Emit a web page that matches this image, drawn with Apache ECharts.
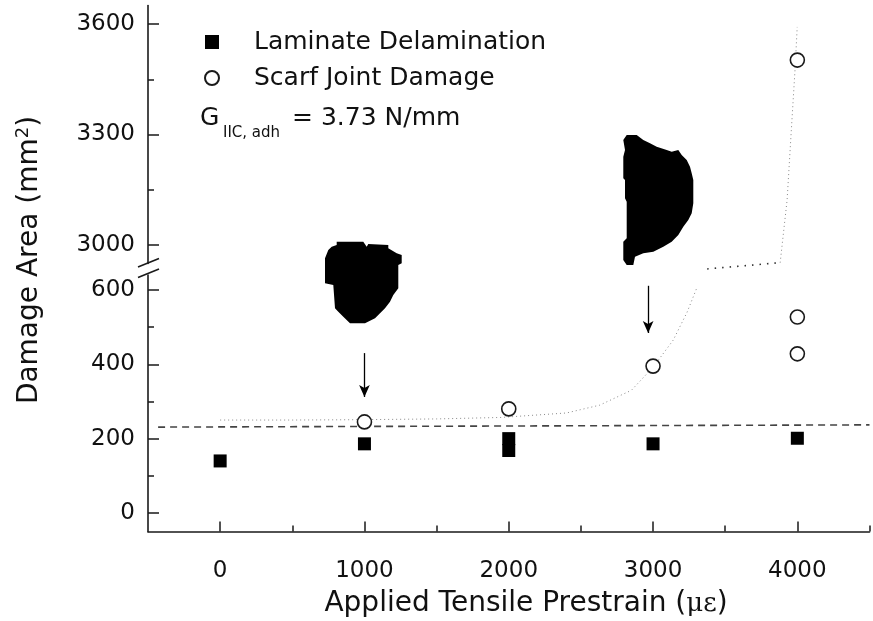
<!DOCTYPE html>
<html>
<head>
<meta charset="utf-8">
<script src="https://cdn.jsdelivr.net/npm/echarts@6/dist/echarts.min.js"></script>
<style>
  html, body { margin: 0; padding: 0; background: #fff; }
  #chart { width: 873px; height: 621px; }
</style>
</head>
<body>
<div id="chart"></div>
<script>
// measured data (strain in microstrain, area in mm^2)
const lamStrain = [0, 1000, 2000, 2000, 3000, 4000]
const lamArea = [140, 186, 200, 168, 186, 201]

const scarfStrain = [1000, 2000, 3000, 4000, 4000]
const scarfArea = [245, 280, 395, 428, 527]
const scarfUpStrain = [4000]
const scarfUpArea = [3502]

// dashed reference level
const dashStrain = [-430, 4500]
const dashArea = [231, 237]

// dotted trend curve, lower and upper panel
const fitStrain = [0, 500, 1000, 1500, 1950, 2400, 2630, 2850, 3000, 3140, 3236, 3306]
const fitArea = [250, 250, 251, 253, 257, 269, 290, 330, 392, 465, 540, 608]
const fitFlatStrain = [3375, 3881]
const fitFlatArea = [2935, 2952]
const fitRiseStrain = [3881, 3929, 3957, 3985, 3999]
const fitRiseArea = [2952, 3122, 3304, 3483, 3592]

// arrows pointing at the damage pictures
const arrowStrain = [1000, 2966]
const arrowFrom = [430, 611]
const arrowTo = [312, 484]

// ticks
const xMajor = [0, 1000, 2000, 3000, 4000]
const xMinor = [500, 1500, 2500, 3500, 4500]
const yLowMajor = [0, 200, 400, 600]
const yLowMinor = [100, 300, 500]
const yUpMajor = [3000, 3300, 3600]
const yUpMinor = [3150, 3450]

const FONT = 'DejaVu Sans'
const AX = '#1a1a1a'

const zip = (a, b) => a.map((v, i) => [v, b[i]])

const chart = echarts.init(document.getElementById('chart'))

const valueAxis = (extra) => Object.assign({
  type: 'value',
  splitLine: { show: false },
  axisLine: { show: true, onZero: false, lineStyle: { color: AX, width: 1.6 } },
  axisLabel: { show: false },
  axisTick: { show: false }
}, extra)

const hiddenLine = { show: false, onZero: false }

const majorTick = (vals, len) => ({
  show: true, inside: true, length: len, customValues: vals,
  lineStyle: { color: AX, width: 1.5 }
})

const labelStyle = (vals, margin) => ({
  show: true, customValues: vals, margin: margin,
  formatter: (v) => String(v),
  fontFamily: FONT, fontSize: 23, color: '#111'
})

const option = {
  animation: false,
  backgroundColor: '#fff',
  grid: [
    { left: 148, right: 3.5, top: 5.6, height: 257.8 },
    { left: 148, right: 3.5, top: 275, height: 256.6 }
  ],
  xAxis: [
    valueAxis({ gridIndex: 0, min: -500, max: 4500, show: false, axisLine: hiddenLine }),
    valueAxis({
      gridIndex: 1, min: -500, max: 4500, position: 'bottom',
      axisTick: majorTick(xMajor, 10),
      axisLabel: labelStyle(xMajor, 28)
    }),
    valueAxis({
      gridIndex: 1, min: -500, max: 4500, position: 'bottom',
      axisLine: hiddenLine,
      axisTick: majorTick(xMinor, 6)
    })
  ],
  yAxis: [
    valueAxis({
      gridIndex: 0, min: 2950, max: 3650, position: 'left',
      axisTick: majorTick(yUpMajor, 11),
      axisLabel: labelStyle(yUpMajor, 13)
    }),
    valueAxis({
      gridIndex: 0, min: 2950, max: 3650, position: 'left',
      axisLine: hiddenLine,
      axisTick: majorTick(yUpMinor, 6)
    }),
    valueAxis({
      gridIndex: 1, min: -50, max: 640, position: 'left',
      axisTick: majorTick(yLowMajor, 11),
      axisLabel: labelStyle(yLowMajor, 13)
    }),
    valueAxis({
      gridIndex: 1, min: -50, max: 640, position: 'left',
      axisLine: hiddenLine,
      axisTick: majorTick(yLowMinor, 6)
    })
  ],
  legend: {
    orient: 'vertical',
    left: 199,
    top: 24,
    itemWidth: 14,
    itemHeight: 14,
    itemGap: 10,
    data: ['Laminate Delamination', 'Scarf Joint Damage'],
    textStyle: { fontFamily: FONT, fontSize: 25, color: '#111', lineHeight: 26, padding: [0, 0, 0, 30] },
    selectedMode: false
  },
  graphic: [
    // axis break marks
    { type: 'line', shape: { x1: 138, y1: 267, x2: 159, y2: 258.5 }, style: { stroke: AX, lineWidth: 1.6 } },
    { type: 'line', shape: { x1: 138, y1: 277.5, x2: 159, y2: 269 }, style: { stroke: AX, lineWidth: 1.6 } },
    // damage pictures
    {
      type: 'polygon', z: 5,
      shape: { points: [[336.7,241.7],[363.3,241.7],[366.7,246.7],[368.3,244],[388.3,245],[388.3,248.3],[396.7,253.3],[401.7,255],[401.7,263.3],[398.3,265],[398.3,288.3],[393.3,295],[390,301.7],[385,308.3],[380,313.3],[375,318.3],[365,323.3],[350,323.3],[343.3,316.7],[338.3,311.7],[335,308.3],[333.3,285],[325,283.3],[325,258.3],[328.3,250],[331.7,246.7],[336.7,245]] },
      style: { fill: '#000' }
    },
    {
      type: 'polygon', z: 5,
      shape: { points: [[626.7,135],[636.7,135],[643.3,140],[650,143.3],[656.7,146.7],[666.7,150],[671.7,151.7],[678.3,150],[681.7,155],[686.7,160],[690,166.7],[691.7,173.3],[693.3,180],[693.3,203.3],[691.7,213.3],[688.3,220],[683.3,226.7],[678.3,235],[671.7,241.7],[663.3,246.7],[653.3,251.7],[643.3,253.3],[635,256.7],[633.3,265],[626.7,265],[623.3,260],[623.3,241.7],[626.7,238.3],[626.7,201.7],[625,198.3],[625,180],[623.3,178.3],[623.3,156.7],[625,150],[623.3,140]] },
      style: { fill: '#000' }
    },
    // G_IIC,adh annotation
    { type: 'text', x: 200, y: 118, style: { text: 'G', font: '25px "DejaVu Sans"', fill: '#111', verticalAlign: 'middle' } },
    { type: 'text', x: 223, y: 133, style: { text: 'IIC, adh', font: '15px "DejaVu Sans"', fill: '#111', verticalAlign: 'middle' } },
    { type: 'text', x: 292, y: 118, style: { text: '= 3.73 N/mm', font: '25px "DejaVu Sans"', fill: '#111', verticalAlign: 'middle' } },
    // axis titles
    {
      type: 'text', x: 526, y: 604,
      style: {
        text: '{a|Applied Tensile Prestrain (}{g|με}{a|)}',
        align: 'center', verticalAlign: 'middle',
        rich: {
          a: { fontFamily: FONT, fontSize: 28, fill: '#111' },
          g: { fontFamily: 'DejaVu Serif', fontSize: 26, fill: '#111' }
        }
      }
    },
    {
      type: 'text', x: 30, y: 260, rotation: Math.PI / 2,
      style: {
        text: '{a|Damage Area (mm}{s|2}{a|)}',
        align: 'center', verticalAlign: 'middle',
        rich: {
          a: { fontFamily: FONT, fontSize: 28, fill: '#111', lineHeight: 32 },
          s: { fontFamily: FONT, fontSize: 18, fill: '#111', verticalAlign: 'top', lineHeight: 32 }
        }
      }
    }
  ],
  series: [
    {
      name: 'fit', type: 'line', xAxisIndex: 1, yAxisIndex: 2, z: 1,
      data: zip(fitStrain, fitArea), showSymbol: false, silent: true,
      lineStyle: { color: '#8a8a8a', width: 1, type: [1, 3] }
    },
    {
      name: 'fitFlat', type: 'line', xAxisIndex: 0, yAxisIndex: 0, z: 1, clip: false,
      data: zip(fitFlatStrain, fitFlatArea), showSymbol: false, silent: true,
      lineStyle: { color: '#333', width: 1.6, type: [1.5, 6] }
    },
    {
      name: 'fitRise', type: 'line', xAxisIndex: 0, yAxisIndex: 0, z: 1, clip: false,
      data: zip(fitRiseStrain, fitRiseArea), showSymbol: false, silent: true,
      lineStyle: { color: '#8a8a8a', width: 1, type: [1, 3] }
    },
    {
      name: 'level', type: 'line', xAxisIndex: 1, yAxisIndex: 2, z: 2,
      data: zip(dashStrain, dashArea), showSymbol: false, silent: true,
      lineStyle: { color: '#444', width: 1.6, type: [7, 5] }
    },
    {
      name: 'arrows', type: 'line', xAxisIndex: 1, yAxisIndex: 2, data: [], silent: true,
      markLine: {
        silent: true, symbol: ['none', 'arrow'], symbolSize: [8, 12],
        label: { show: false },
        lineStyle: { color: '#000', width: 1.3, type: 'solid' },
        data: arrowStrain.map((s, i) => [{ coord: [s, arrowFrom[i]] }, { coord: [s, arrowTo[i]] }])
      }
    },
    {
      name: 'Laminate Delamination', type: 'scatter', xAxisIndex: 1, yAxisIndex: 2, z: 4,
      data: zip(lamStrain, lamArea), symbol: 'rect', symbolSize: 13,
      itemStyle: { color: '#000', opacity: 1 }
    },
    {
      name: 'Scarf Joint Damage', type: 'scatter', xAxisIndex: 1, yAxisIndex: 2, z: 4,
      data: zip(scarfStrain, scarfArea), symbol: 'circle', symbolSize: 14,
      itemStyle: { color: '#fff', borderColor: '#1a1a1a', borderWidth: 1.6, opacity: 1 }
    },
    {
      name: 'Scarf Joint Damage', type: 'scatter', xAxisIndex: 0, yAxisIndex: 0, z: 4,
      data: zip(scarfUpStrain, scarfUpArea), symbol: 'circle', symbolSize: 14,
      itemStyle: { color: '#fff', borderColor: '#1a1a1a', borderWidth: 1.6, opacity: 1 }
    }
  ]
}

chart.setOption(option)
</script>
</body>
</html>
